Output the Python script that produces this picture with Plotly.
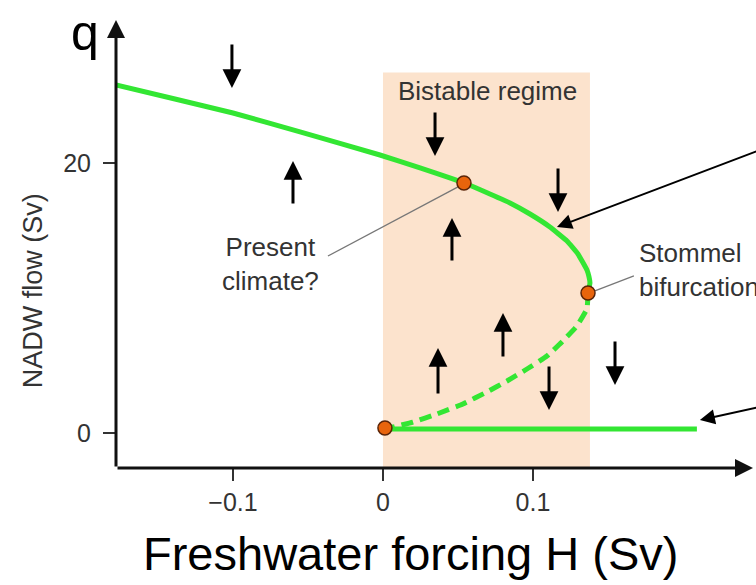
import plotly.graph_objects as go

# ---- data ----
upper_H = [-0.178, -0.1387, -0.1, -0.0553, -0.002, 0.0247, 0.054, 0.0713, 0.0847,
           0.098, 0.1113, 0.1227, 0.13, 0.136, 0.1373, 0.138, 0.1367]
upper_q = [25.78, 24.74, 23.70, 22.30, 20.59, 19.63, 18.52, 17.70, 17.04,
           16.22, 15.26, 14.22, 13.26, 12.07, 11.6, 11.11, 10.37]

unstable_H = [0.1367, 0.136, 0.1293, 0.1193, 0.1093, 0.096, 0.0827, 0.0693,
              0.0533, 0.036, 0.02, 0.0067, 0.0013]
unstable_q = [10.37, 9.19, 7.93, 6.74, 5.70, 4.74, 3.85, 3.04,
              2.15, 1.41, 0.81, 0.44, 0.37]

lower_H = [0.0013, 0.2093]
lower_q = [0.3, 0.3]

point_H = [0.054, 0.1367, 0.0013]
point_q = [18.52, 10.37, 0.37]

# small flow-direction arrows: H, tail q, tip q
arrow_H = [-0.1007, -0.06, 0.0347, 0.1167, 0.046, 0.08, 0.0367, 0.1107, 0.1547]
arrow_tail = [28.89, 16.89, 23.85, 19.70, 12.67, 5.56, 2.81, 5.04, 6.89]
arrow_tip = [25.56, 20.15, 20.52, 16.37, 15.93, 8.89, 6.30, 1.70, 3.56]

x_ticks = [-0.1, 0, 0.1]
x_ticktext = ["\u22120.1", "0", "0.1"]
y_ticks = [0, 20]
y_ticktext = ["0", "20"]

bistable = [0.0, 0.138]
x_range = [-0.178, 0.2487]
y_range = [-2.593, 30.59]

GREEN = "#33E633"
FONT = "Liberation Sans, Arial, sans-serif"

fig = go.Figure()

fig.add_shape(type="rect", xref="x", yref="y", x0=bistable[0], x1=bistable[1],
              y0=y_range[0], y1=26.7, fillcolor="#FCE3CD", line_width=0, layer="below")

fig.add_trace(go.Scatter(x=upper_H, y=upper_q, mode="lines",
                         line=dict(color=GREEN, width=5, shape="spline", smoothing=0.3),
                         hoverinfo="skip", showlegend=False))
fig.add_trace(go.Scatter(x=unstable_H, y=unstable_q, mode="lines",
                         line=dict(color=GREEN, width=5, dash="12px,7px", shape="spline", smoothing=0.3),
                         hoverinfo="skip", showlegend=False))
fig.add_trace(go.Scatter(x=lower_H, y=lower_q, mode="lines",
                         line=dict(color=GREEN, width=5),
                         hoverinfo="skip", showlegend=False))

# thin gray leader lines
fig.add_trace(go.Scatter(x=[-0.0367, 0.0513], y=[13.11, 18.30], mode="lines",
                         line=dict(color="#777777", width=1.3), hoverinfo="skip", showlegend=False))
fig.add_trace(go.Scatter(x=[0.1413, 0.1673], y=[10.52, 11.63], mode="lines",
                         line=dict(color="#777777", width=1.3), hoverinfo="skip", showlegend=False,
                         cliponaxis=False))

fig.add_trace(go.Scatter(x=point_H, y=point_q, mode="markers",
                         marker=dict(color="#E8640C", size=14, line=dict(color="#5A2408", width=1.5)),
                         hoverinfo="skip", showlegend=False))

ann = []
# flow arrows
for h, t, p in zip(arrow_H, arrow_tail, arrow_tip):
    ann.append(dict(x=h, y=p, ax=h, ay=t, xref="x", yref="y", axref="x", ayref="y",
                    showarrow=True, arrowhead=2, arrowsize=1.25, arrowwidth=3,
                    arrowcolor="#000000", text="", standoff=0))

# pointer arrows
ann.append(dict(x=0.116, y=15.26, ax=0.2513, ay=20.96, xref="x", yref="y", axref="x", ayref="y",
                showarrow=True, arrowhead=2, arrowsize=1.5, arrowwidth=2, arrowcolor="#000000", text=""))
ann.append(dict(x=0.2113, y=0.96, ax=0.2513, ay=1.93, xref="x", yref="y", axref="x", ayref="y",
                showarrow=True, arrowhead=2, arrowsize=1.5, arrowwidth=2, arrowcolor="#000000", text=""))

# axes with arrowheads
ann.append(dict(x=x_range[0], y=30.59, ax=x_range[0], ay=y_range[0], xref="x", yref="y",
                axref="x", ayref="y", showarrow=True, arrowhead=2, arrowsize=1.2, arrowwidth=3,
                arrowcolor="#111111", text=""))
ann.append(dict(x=0.2467, y=y_range[0], ax=x_range[0], ay=y_range[0], xref="x", yref="y",
                axref="x", ayref="y", showarrow=True, arrowhead=2, arrowsize=1.2, arrowwidth=3,
                arrowcolor="#111111", text=""))

# texts
ann.append(dict(x=0.07, y=25.33, xref="x", yref="y", text="Bistable regime", showarrow=False,
                xanchor="center", yanchor="middle",
                font=dict(family=FONT, size=26, color="#333333")))
ann.append(dict(x=-0.0753, y=12.52, xref="x", yref="y", text="Present<br>climate?", showarrow=False,
                align="center", xanchor="center", yanchor="middle",
                font=dict(family=FONT, size=26, color="#333333")))
ann.append(dict(x=0.1693, y=12.07, xref="x", yref="y", text="Stommel<br>bifurcation", showarrow=False,
                align="left", xanchor="left", yanchor="middle",
                font=dict(family=FONT, size=26, color="#333333")))
ann.append(dict(x=-0.1297, y=0.397, xref="paper", yref="paper", text="NADW flow (Sv)", showarrow=False,
                textangle=-90, xanchor="center", yanchor="middle",
                font=dict(family=FONT, size=27, color="#333333")))
ann.append(dict(x=-0.0484, y=0.972, xref="paper", yref="paper", text="q", showarrow=False,
                xanchor="center", yanchor="middle",
                font=dict(family=FONT, size=50, color="#000000")))
ann.append(dict(x=0.4609, y=-0.191, xref="paper", yref="paper", text="Freshwater forcing H (Sv)",
                showarrow=False, xanchor="center", yanchor="middle",
                font=dict(family=FONT, size=47, color="#000000")))

fig.update_layout(
    width=756, height=585,
    margin=dict(l=116, r=0, t=20, b=117),
    paper_bgcolor="white", plot_bgcolor="white",
    font=dict(family=FONT, size=26, color="#333333"),
    annotations=ann,
    xaxis=dict(range=x_range, showgrid=False, zeroline=False, showline=False,
               tickvals=x_ticks, ticktext=x_ticktext, ticks="outside", ticklen=12,
               tickwidth=2, tickcolor="#333333", ticklabelstandoff=0,
               tickfont=dict(family=FONT, size=25, color="#333333")),
    yaxis=dict(range=y_range, showgrid=False, zeroline=False, showline=False,
               tickvals=y_ticks, ticktext=y_ticktext, ticks="outside", ticklen=12,
               tickwidth=2, tickcolor="#333333", ticklabelstandoff=7,
               tickfont=dict(family=FONT, size=25, color="#333333")),
)

fig.write_html("out.html")
